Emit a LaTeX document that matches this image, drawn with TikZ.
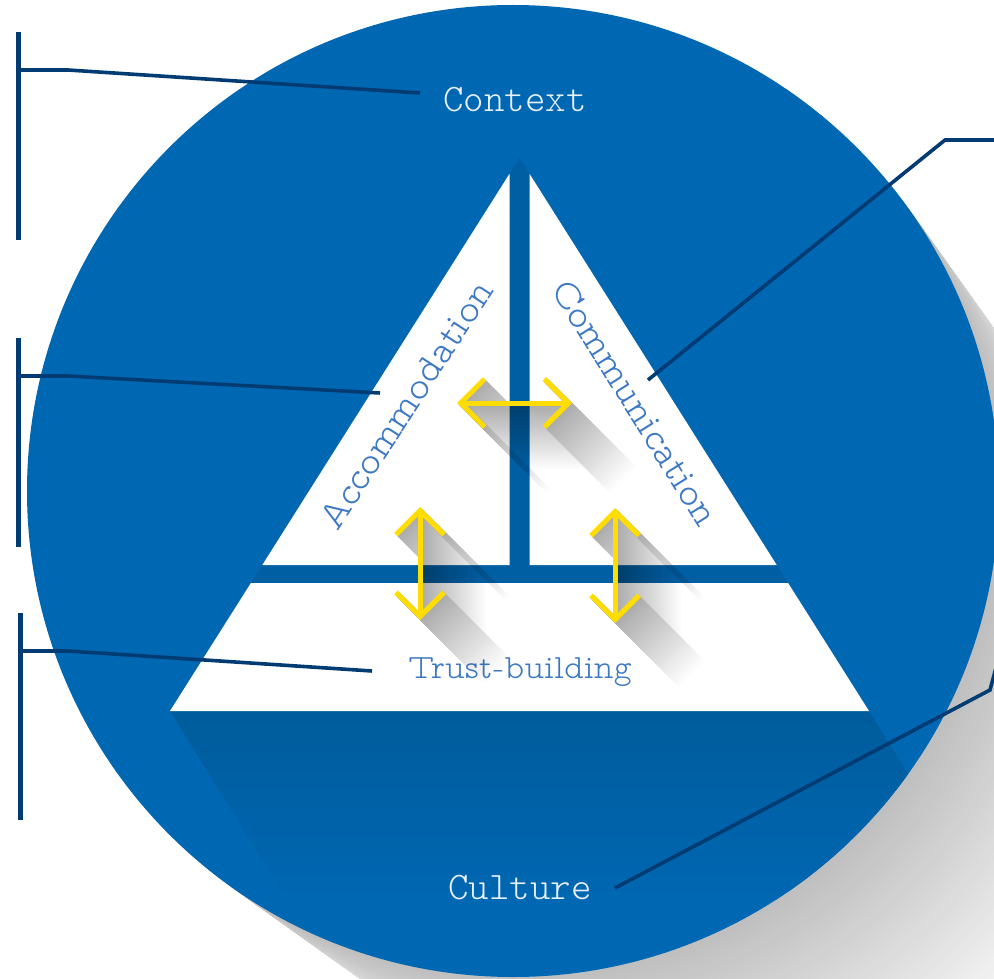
\documentclass[tikz,border=0pt]{standalone}
\usepackage{fontspec}
\usetikzlibrary{arrows.meta,calc}
\newfontfamily\slab{lmmonoproplt10-regular.otf}
\newfontfamily\slabmono{lmmonolt10-regular.otf}
\definecolor{circblue}{RGB}{0,103,178}
\definecolor{pyrblue}{RGB}{0,94,162}
\definecolor{pyrshade}{RGB}{0,92,156}
\definecolor{labelblue}{RGB}{60,120,195}
\definecolor{navy}{RGB}{0,60,115}
\definecolor{ayellow}{RGB}{255,221,0}
\definecolor{offwhite}{RGB}{232,240,250}
\tikzset{
  ctxt/.style={font=\slabmono\fontsize{39}{39}\selectfont, text=offwhite, inner sep=0pt},
  itxt/.style={font=\slab\fontsize{39}{39}\selectfont, text=labelblue, inner sep=0pt},
  bracketbar/.style={draw=navy, line width=5pt},
  conn/.style={draw=navy, line width=3.6pt},
  dblarrow/.style={line width=5pt, arrows={Straight Barb[length=24pt,width=48pt,sharp]-Straight Barb[length=24pt,width=48pt,sharp]}}
}
\begin{document}
\begin{tikzpicture}[x=1pt,y=-1pt]
\useasboundingbox (0,0) rectangle (994,979);
\clip (0,0) rectangle (994,979);
\fill[white] (0,0) rectangle (994,979);
% long shadow of the disc
\foreach \k in {70,69,...,1}{
  \pgfmathsetmacro\g{25*(1-(\k-1)/70)}
  \pgfmathsetmacro\rr{486-0.7*\k}
  \fill[black!\g] (513+3*\k, 491+3*\k) circle[radius=\rr pt];
}
% disc
\node[circle, fill=circblue, minimum size=972pt, inner sep=0pt] (disc) at (513,491) {};
% shadow of the pyramid
\begin{scope}
  \clip (513,491) circle[radius=486pt];
  \shade[top color=pyrshade, bottom color=circblue] (170,711) -- (869,711) -- (869+0.62*189,900) -- (170+0.62*189,900) -- cycle;
\end{scope}
% pyramid
\fill[pyrblue] (519.5,158) -- (869,711) -- (170,711) -- cycle;
\fill[white] (262.3,565) -- (509.5,173.8) -- (509.5,565) -- cycle;
\fill[white] (529.5,173.8) -- (776.7,565) -- (529.5,565) -- cycle;
\fill[white] (250.9,583) -- (788.1,583) -- (869,711) -- (170,711) -- cycle;
% texts
\node[ctxt] (context) at (515,100) {Context};
\node[ctxt] (culture) at (520,888) {Culture};
\node[itxt, rotate=57] (accom) at (406,405) {Accommodation};
\node[itxt, rotate=-58] (comm) at (635,403) {Communication};
\node[itxt, font=\slab\fontsize{34}{34}\selectfont] (trust) at (520,672) {Trust-building};
% connector points
\coordinate (b1t) at (18,32);  \coordinate (b1b) at (18,240);
\coordinate (b1m) at (18,70);  \coordinate (b1k) at (68,70);  \coordinate (b1e) at (420,93);
\coordinate (b2t) at (18,338); \coordinate (b2b) at (18,547);
\coordinate (b2m) at (18,376); \coordinate (b2k) at (68,376); \coordinate (b2e) at (380,393);
\coordinate (b3t) at (20,613); \coordinate (b3b) at (20,820);
\coordinate (b3m) at (20,651); \coordinate (b3k) at (68,651); \coordinate (b3e) at (372,671);
\coordinate (c1e) at (648,380); \coordinate (c1k) at (945,140); \coordinate (c1r) at (1000,140);
\coordinate (c2e) at (615,888); \coordinate (c2k) at (990,690); \coordinate (c2r) at (997,664);
\draw[bracketbar] (b1t) -- (b1b);
\draw[bracketbar] (b2t) -- (b2b);
\draw[bracketbar] (b3t) -- (b3b);
\draw[conn] (b1m) -- (b1k) -- (b1e);
\draw[conn] (b2m) -- (b2k) -- (b2e);
\draw[conn] (b3m) -- (b3k) -- (b3e);
\draw[conn] (c1e) -- (c1k) -- (c1r);
\draw[conn] (c2e) -- (c2k) -- (c2r);
% arrows
\coordinate (hA) at (457,403); \coordinate (hB) at (572,403);
\coordinate (lA) at (420,507); \coordinate (lB) at (420,620);
\coordinate (rA) at (615,508); \coordinate (rB) at (615,623);
\begin{scope}[blend mode=multiply]
 \begin{scope}[transparency group]
  \foreach \k in {40,39,...,1}{
    \pgfmathsetmacro\g{32*(1-(\k-1)/40)}
    \pgfmathsetmacro\d{1.6*\k}
    \draw[dblarrow, black!\g] ($(hA)+(\d,\d)$) -- ($(hB)+(\d,\d)$);
    \draw[dblarrow, black!\g] ($(lA)+(\d,\d)$) -- ($(lB)+(\d,\d)$);
    \draw[dblarrow, black!\g] ($(rA)+(\d,\d)$) -- ($(rB)+(\d,\d)$);
  }
 \end{scope}
\end{scope}
\draw[dblarrow, ayellow] (hA) -- (hB);
\draw[dblarrow, ayellow] (lA) -- (lB);
\draw[dblarrow, ayellow] (rA) -- (rB);
\end{tikzpicture}
\end{document}
